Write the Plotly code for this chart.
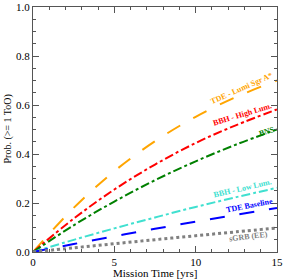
import plotly.graph_objects as go

t = [0, 2.5, 5, 7.5, 10, 12.5, 15]
tde_lumi = [0, 0.180, 0.330, 0.452, 0.552, 0.633, 0.700]
bbh_high = [0, 0.136, 0.255, 0.357, 0.445, 0.518, 0.582]
bns = [0, 0.109, 0.206, 0.293, 0.370, 0.439, 0.500]
bbh_low = [0, 0.0495, 0.0965, 0.141, 0.184, 0.224, 0.262]
tde_base = [0, 0.0325, 0.064, 0.0945, 0.124, 0.152, 0.180]
sgrb = [0, 0.017, 0.0338, 0.0502, 0.0664, 0.0823, 0.098]

series = [
    ("TDE - Lumi Sgr A*", tde_lumi, "orange", "longdash", 2, 12.8, 0.657, -24, 3),
    ("BBH - High Lum.", bbh_high, "red", "dashdot", 2, 12.85, 0.553, -17, 2),
    ("BNS", bns, "green", "dashdot", 2, 14.37, 0.486, -17, 1),
    ("BBH - Low Lum.", bbh_low, "turquoise", "dashdot", 2, 12.85, 0.252, -13, 2),
    ("TDE Baseline", tde_base, "blue", "longdash", 2, 13.33, 0.184, -11, 1),
    ("sGRB (EE)", sgrb, "gray", "dot", 3, 13.27, 0.066, -7, -1),
]

fig = go.Figure()
serif = "Liberation Serif"
for name, vals, col, dash, w, ax, ay, ang, ys in series:
    fig.add_trace(go.Scatter(x=t, y=vals, mode="lines", line=dict(color=col, dash=dash, width=w, shape="spline"), name=name, showlegend=False))
    fig.add_annotation(x=ax, y=ay, xref="x", yref="y", text="<b>" + name + "</b>", showarrow=False,
                       textangle=ang, yshift=ys, font=dict(family=serif, size=8, color=col))

axis_common = dict(showline=True, linecolor="#555", linewidth=1, mirror="allticks", ticks="inside",
                   tickcolor="#555", ticklen=6, showgrid=False, zeroline=False, automargin=False,
                   tickfont=dict(family=serif, size=11, color="black"))
fig.update_xaxes(range=[0, 15], tickvals=[0, 5, 10, 15], ticktext=["0", "5", "10", "15"],
                 minor=dict(ticks="inside", ticklen=3, dtick=1, tickcolor="#555", showgrid=False),
                 **axis_common)
fig.update_yaxes(range=[0, 1], tickvals=[0, 0.2, 0.4, 0.6, 0.8, 1.0], ticktext=["0.0", "0.2", "0.4", "0.6", "0.8", "1.0"],
                 minor=dict(ticks="inside", ticklen=3, dtick=0.05, tickcolor="#555", showgrid=False),
                 **axis_common)
fig.add_annotation(x=0.5, y=0, xref="paper", yref="paper", yanchor="top", yshift=-13, showarrow=False,
                   text="Mission Time [yrs]", font=dict(family=serif, size=11, color="black"))
fig.add_annotation(x=0, y=0.5, xref="paper", yref="paper", xanchor="right", xshift=-18, showarrow=False,
                   textangle=-90, text="Prob. (>= 1 ToO)", font=dict(family=serif, size=10, color="black"))
fig.update_layout(width=284, height=279, margin=dict(l=33, r=7, t=7, b=27, autoexpand=False),
                  plot_bgcolor="white", paper_bgcolor="white")
fig.write_html("out.html", config={"displayModeBar": False},
               post_script="document.body.style.margin='0';document.body.style.overflow='hidden';")
